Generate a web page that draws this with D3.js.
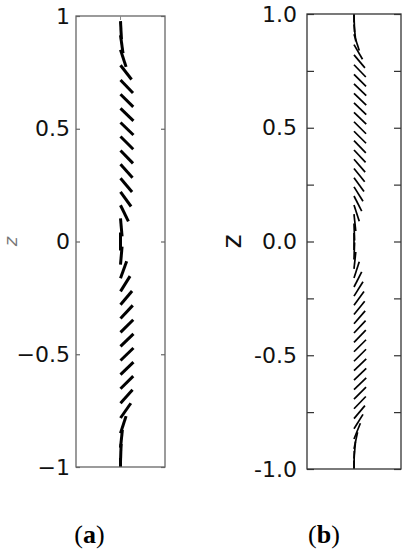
<!DOCTYPE html>
<html>
<head>
<meta charset="utf-8">
<script src="https://cdn.jsdelivr.net/npm/d3@7"></script>
<style>
body{margin:0;background:#fff}
svg{display:block}
</style>
</head>
<body>
<svg id="chart"></svg>
<script>
// tick values shown on each panel
var ticksA = [-1,-0.5,0,0.5,1]
var ticksB = [-1,-0.75,-0.5,-0.25,0,0.25,0.5,0.75,1]

// panel (a): z positions (k/16) and tilt of each segment in degrees
// positive = "\" , negative = "/"
var zA = [0.9375,0.875,0.8125,0.75,0.6875,0.625,0.5625,0.5,0.4375,0.375,0.3125,0.25,0.1875,0.125,0.0625,0,
    -0.0625,-0.125,-0.1875,-0.25,-0.3125,-0.375,-0.4375,-0.5,-0.5625,-0.625,-0.6875,-0.75,-0.8125,-0.875,-0.9375,-1]
var tiltA = [3,8,18,38,44,45,46,46,45,44,42,40,36,26,5,0,
    -5,-20,-32,-40,-43,-45,-46,-46,-46,-45,-42,-35,-18,-6,-2,0]

// panel (b): z positions (k/24) and tilts
var zB = [1,0.9583,0.9167,0.875,0.8333,0.7917,0.75,0.7083,0.6667,0.625,0.5833,0.5417,0.5,0.4583,0.4167,0.375,
    0.3333,0.2917,0.25,0.2083,0.1667,0.125,0.0833,0.0417,0,
    -0.0417,-0.0833,-0.125,-0.1667,-0.2083,-0.25,-0.2917,-0.3333,-0.375,-0.4167,-0.4583,-0.5,-0.5417,-0.5833,
    -0.625,-0.6667,-0.7083,-0.75,-0.7917,-0.8333,-0.875,-0.9167,-0.9583,-1]
var tiltB = [0,2,6,18,30,40,44,45,46,46,46,46,45,45,44,43,
    41,39,36,32,27,18,6,2,0,
    -2,-6,-18,-27,-32,-36,-39,-41,-43,-44,-45,-45,-46,-46,
    -46,-45,-44,-40,-32,-22,-12,-5,-1,0]

var drawSegments = function(target,zs,tilts,xScale,yScale,len,width,clipId)
{
    var segs = zs.map(function(z,i){ return {z:z,t:tilts[i]} })
    target.append("g")
        .attr("clip-path","url(#"+clipId+")")
        .selectAll("line")
        .data(segs)
        .enter()
        .append("line")
        .attr("x1",xScale(0))
        .attr("x2",function(d){ return xScale(0)+len*Math.sin(Math.abs(d.t)*Math.PI/180) })
        .attr("y1",function(d)
            {
                var dy = len*Math.cos(d.t*Math.PI/180)/2
                return d.t>=0 ? yScale(d.z)-dy : yScale(d.z)+dy
            })
        .attr("y2",function(d)
            {
                var dy = len*Math.cos(d.t*Math.PI/180)/2
                return d.t>=0 ? yScale(d.z)+dy : yScale(d.z)-dy
            })
        .attr("stroke","#000")
        .attr("stroke-width",width)
        .attr("stroke-linecap","butt")
}

var drawPanel = function(svg,box,opts)
{
    var xScale = d3.scaleLinear().domain([-1,1]).range([box.left,box.right])
    var yScale = d3.scaleLinear().domain([-1,1]).range([box.bottom,box.top])

    svg.append("clipPath")
        .attr("id",opts.clip)
        .append("rect")
        .attr("x",box.left)
        .attr("y",box.top)
        .attr("width",box.right-box.left)
        .attr("height",box.bottom-box.top)

    var leftAxis = d3.axisLeft(yScale)
        .tickValues(opts.ticks)
        .tickSizeInner(-opts.tickLen)
        .tickSizeOuter(0)
        .tickPadding(opts.pad)
        .tickFormat(opts.format)
    var rightAxis = d3.axisRight(yScale)
        .tickValues(opts.ticks)
        .tickSizeInner(-opts.tickLen)
        .tickSizeOuter(0)
        .tickFormat("")

    var gl = svg.append("g")
        .attr("transform","translate("+box.left+",0)")
        .call(leftAxis)
    var gr = svg.append("g")
        .attr("transform","translate("+box.right+",0)")
        .call(rightAxis)
    ;[gl,gr].forEach(function(g)
        {
            g.select(".domain").remove()
            g.selectAll(".tick line").attr("stroke",opts.frame).attr("stroke-width",1.2)
        })
    gl.selectAll(".tick text")
        .attr("fill","#111")
        .style("font-family",opts.font)
        .style("font-size",opts.fontSize+"px")

    drawSegments(svg,opts.z,opts.tilt,xScale,yScale,opts.len,opts.width,opts.clip)

    svg.append("rect")
        .attr("x",box.left)
        .attr("y",box.top)
        .attr("width",box.right-box.left)
        .attr("height",box.bottom-box.top)
        .attr("fill","none")
        .attr("stroke",opts.frame)
        .attr("stroke-width",1.3)

    return {x:xScale,y:yScale}
}

var svg = d3.select("#chart")
    .attr("width",406)
    .attr("height",550)

var boxA = {left:76,right:165,top:16,bottom:467}
var boxB = {left:307,right:401,top:14,bottom:469}

var sa = drawPanel(svg,boxA,{
    clip:"clipA",ticks:ticksA,tickLen:4,pad:6,format:d3.format(""),
    font:"'DejaVu Sans', sans-serif",fontSize:22,
    z:zA,tilt:tiltA,len:18,width:3,frame:"#666"
})
var sb = drawPanel(svg,boxB,{
    clip:"clipB",ticks:ticksB,tickLen:7,pad:10,
    format:function(d){ return Math.abs(d*2-Math.round(d*2))<1e-6 ? d.toFixed(1) : "" },
    font:"'DejaVu Sans', sans-serif",fontSize:22,
    z:zB,tilt:tiltB,len:17,width:1.7,frame:"#333"
})

// small tick at the top centre of panel (a)
svg.append("line")
    .attr("x1",sa.x(0)).attr("x2",sa.x(0))
    .attr("y1",boxA.top).attr("y2",boxA.top+4)
    .attr("stroke","#888").attr("stroke-width",1)

// axis titles
svg.append("text")
    .text("z")
    .attr("transform","translate(17,"+sa.y(0)+") rotate(-90)")
    .attr("text-anchor","middle")
    .style("font-family","'DejaVu Sans', sans-serif")
    .style("font-style","italic")
    .style("font-size","18px")
    .attr("fill","#777")
svg.append("text")
    .text("z")
    .attr("transform","translate(241,"+sb.y(0)+") rotate(-90)")
    .attr("text-anchor","middle")
    .style("font-family","'DejaVu Sans', sans-serif")
    .style("font-size","27px")
    .attr("fill","#111")

// captions
var captions = [{label:"a",x:(boxA.left+boxA.right)/2-31},{label:"b",x:(boxB.left+boxB.right)/2-30}]
captions.forEach(function(c)
    {
        var t = svg.append("text")
            .attr("x",c.x)
            .attr("y",543)
            .attr("text-anchor","middle")
            .style("font-family","'Liberation Serif', 'DejaVu Serif', serif")
            .style("font-size","26px")
            .attr("fill","#000")
        t.append("tspan").text("(")
        t.append("tspan").text(c.label).style("font-weight","bold")
        t.append("tspan").text(")")
    })
</script>
</body>
</html>
